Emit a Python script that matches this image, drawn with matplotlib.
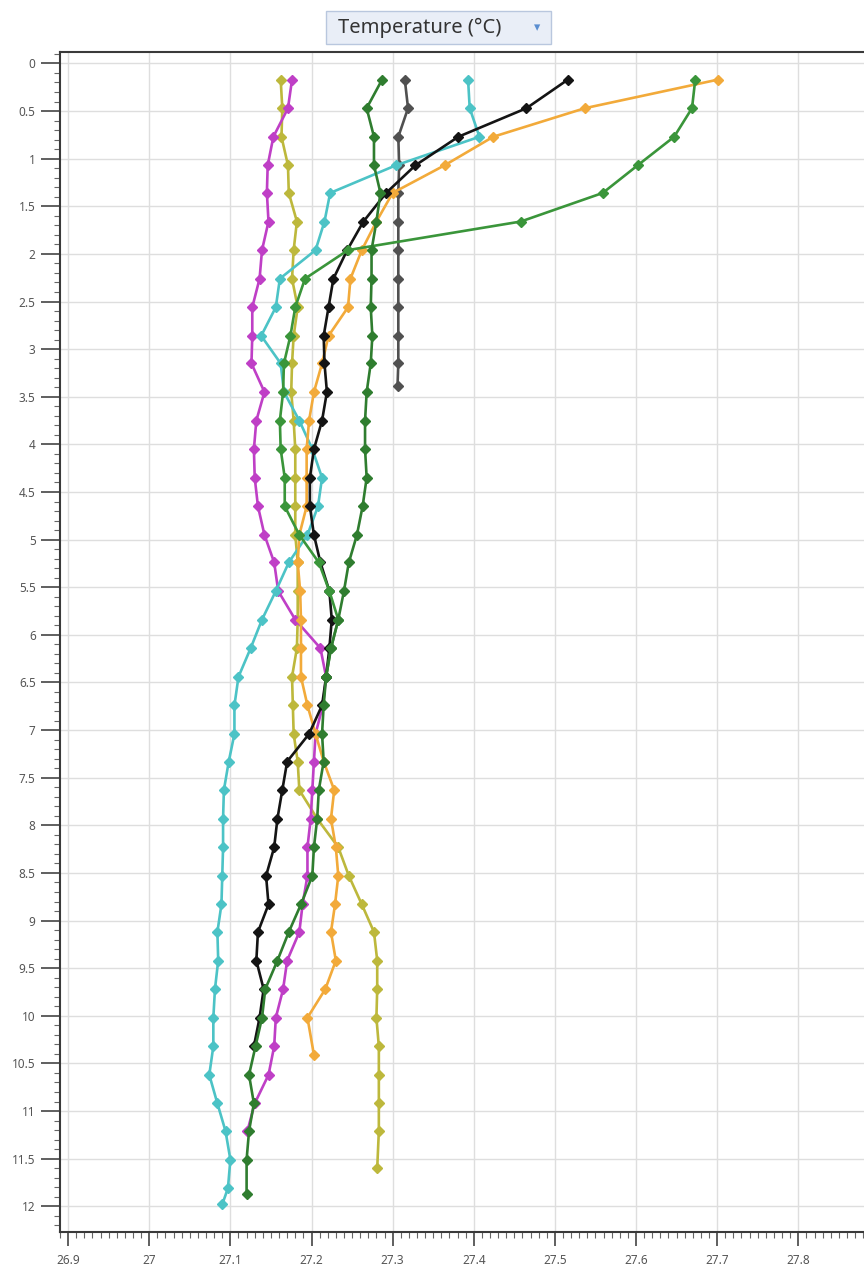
import matplotlib
matplotlib.use("Agg")
import matplotlib.pyplot as plt
from matplotlib.ticker import MultipleLocator, FuncFormatter
from matplotlib.patches import FancyBboxPatch

# depth bins (m), shared by all casts
depth = [0.17, 0.47, 0.77, 1.07, 1.36, 1.66, 1.96, 2.26, 2.56, 2.86,
         3.15, 3.45, 3.75, 4.05, 4.35, 4.65, 4.95, 5.24, 5.54, 5.84,
         6.14, 6.44, 6.74, 7.04, 7.33, 7.63, 7.93, 8.23, 8.53, 8.83,
         9.12, 9.42, 9.72, 10.02, 10.32, 10.62, 10.92, 11.21, 11.51, 11.81]

# temperature (deg C) per cast
magenta = [27.176, 27.171, 27.153, 27.146, 27.145, 27.147, 27.139, 27.136, 27.127, 27.127,
           27.126, 27.142, 27.132, 27.129, 27.130, 27.134, 27.142, 27.154, 27.159, 27.180,
           27.211, 27.218, 27.214, 27.205, 27.203, 27.201, 27.199, 27.195, 27.195, 27.189,
           27.185, 27.170, 27.165, 27.156, 27.154, 27.147, 27.130, 27.121]
olive = [27.162, 27.164, 27.163, 27.171, 27.172, 27.182, 27.178, 27.176, 27.183, 27.178,
         27.176, 27.175, 27.178, 27.180, 27.180, 27.180, 27.180, 27.183, 27.183, 27.183,
         27.182, 27.176, 27.177, 27.178, 27.183, 27.185, 27.207, 27.233, 27.246, 27.262,
         27.277, 27.281, 27.281, 27.280, 27.283, 27.283, 27.283, 27.283, 27.281]
olive_depth = depth[:38] + [11.60]
dkgreen = [27.287, 27.268, 27.277, 27.277, 27.285, 27.280, 27.274, 27.274, 27.273, 27.275,
           27.273, 27.268, 27.266, 27.266, 27.268, 27.263, 27.256, 27.246, 27.240, 27.233,
           27.224, 27.218, 27.215, 27.213, 27.215, 27.209, 27.207, 27.203, 27.201, 27.187,
           27.172, 27.158, 27.143, 27.139, 27.131, 27.123, 27.129, 27.123, 27.120, 27.120]
dkgreen_depth = depth[:39] + [11.87]
green = [27.673, 27.669, 27.647, 27.602, 27.559, 27.458, 27.245, 27.192, 27.180, 27.174,
         27.166, 27.165, 27.161, 27.162, 27.167, 27.167, 27.185, 27.209, 27.222, 27.233,
         27.224, 27.218]
grey = [27.315, 27.319, 27.307, 27.308, 27.307, 27.307, 27.307, 27.307, 27.307, 27.307,
        27.307, 27.306]
grey_depth = depth[:11] + [3.39]
cyan = [27.393, 27.395, 27.407, 27.304, 27.223, 27.216, 27.205, 27.161, 27.156, 27.138,
        27.162, 27.166, 27.185, 27.201, 27.213, 27.208, 27.195, 27.172, 27.156, 27.139,
        27.125, 27.110, 27.105, 27.105, 27.098, 27.092, 27.091, 27.091, 27.090, 27.089,
        27.084, 27.085, 27.081, 27.079, 27.079, 27.074, 27.084, 27.094, 27.100, 27.097,
        27.090]
cyan_depth = depth + [11.98]
black = [27.516, 27.465, 27.381, 27.328, 27.292, 27.264, 27.244, 27.227, 27.221, 27.215,
         27.216, 27.219, 27.213, 27.203, 27.198, 27.198, 27.203, 27.211, 27.222, 27.225,
         27.222, 27.218, 27.213, 27.197, 27.170, 27.164, 27.158, 27.154, 27.144, 27.147,
         27.134, 27.132, 27.141, 27.136, 27.129]
orange = [27.701, 27.537, 27.424, 27.364, 27.300, 27.280, 27.262, 27.248, 27.245, 27.221,
          27.213, 27.203, 27.197, 27.194, 27.194, 27.194, 27.185, 27.183, 27.186, 27.187,
          27.187, 27.187, 27.195, 27.205, 27.215, 27.228, 27.224, 27.230, 27.233, 27.229,
          27.224, 27.230, 27.217, 27.195, 27.203]
orange_depth = depth[:34] + [10.41]

casts = [
    (olive, olive_depth, "#bdb83c"),
    (magenta, depth[:len(magenta)], "#bf3fc6"),
    (grey, grey_depth, "#505050"),
    (cyan, cyan_depth, "#4cc3c6"),
    (orange, orange_depth, "#f2aa3a"),
    (black, depth[:len(black)], "#141414"),
    (green, depth[:len(green)], "#3a953a"),
    (dkgreen, dkgreen_depth, "#2f7d2f"),
]

plt.rcParams["font.family"] = ["Noto Sans", "DejaVu Sans"]

fig = plt.figure(figsize=(8.64, 12.73), dpi=100)
ax = fig.add_axes([60 / 864, 1 - 1232 / 1273, 1 - 60 / 864, (1232 - 52) / 1273])

for temps, dep, col in casts:
    ax.plot(temps, dep, color=col, lw=1.9, marker="D", ms=5.5, mec=col, mfc=col, zorder=3)

ax.set_xlim(26.89, 27.881)
ax.set_ylim(12.27, -0.12)

ax.xaxis.set_major_locator(MultipleLocator(0.1))
ax.xaxis.set_minor_locator(MultipleLocator(0.01))
ax.yaxis.set_major_locator(MultipleLocator(0.5))
ax.yaxis.set_minor_locator(MultipleLocator(0.1))
fmt = FuncFormatter(lambda v, p: "%g" % round(v, 2))
ax.xaxis.set_major_formatter(fmt)
ax.yaxis.set_major_formatter(fmt)

ax.grid(True, which="major", color="#dedede", lw=1.0, zorder=0)
ax.tick_params(which="major", direction="out", length=14, width=1.2, color="#444444",
               labelsize=8.5, labelcolor="#555555")
ax.tick_params(which="minor", direction="out", length=4, width=0.8, color="#666666")
ax.tick_params(axis="x", which="major", length=10, pad=6)

for s in ["top", "left", "bottom"]:
    ax.spines[s].set_color("#3a3a3a")
    ax.spines[s].set_linewidth(1.5)
ax.spines["right"].set_visible(False)

# dropdown-style title box
box = FancyBboxPatch((326 / 864, 1 - 44 / 1273), 225 / 864, 33 / 1273,
                     boxstyle="square,pad=0", transform=fig.transFigure,
                     facecolor="#e9eef7", edgecolor="#b9c7de", lw=1.0)
fig.patches.append(box)
fig.text(420 / 864, 1 - 28 / 1273, "Temperature (°C)", ha="center", va="center",
         fontsize=14.5, color="#333333")
fig.text(537 / 864, 1 - 28 / 1273, "▾", ha="center", va="center",
         fontsize=9, color="#5a8ed0", family=["DejaVu Sans"])

fig.savefig("out.png", dpi=100)
